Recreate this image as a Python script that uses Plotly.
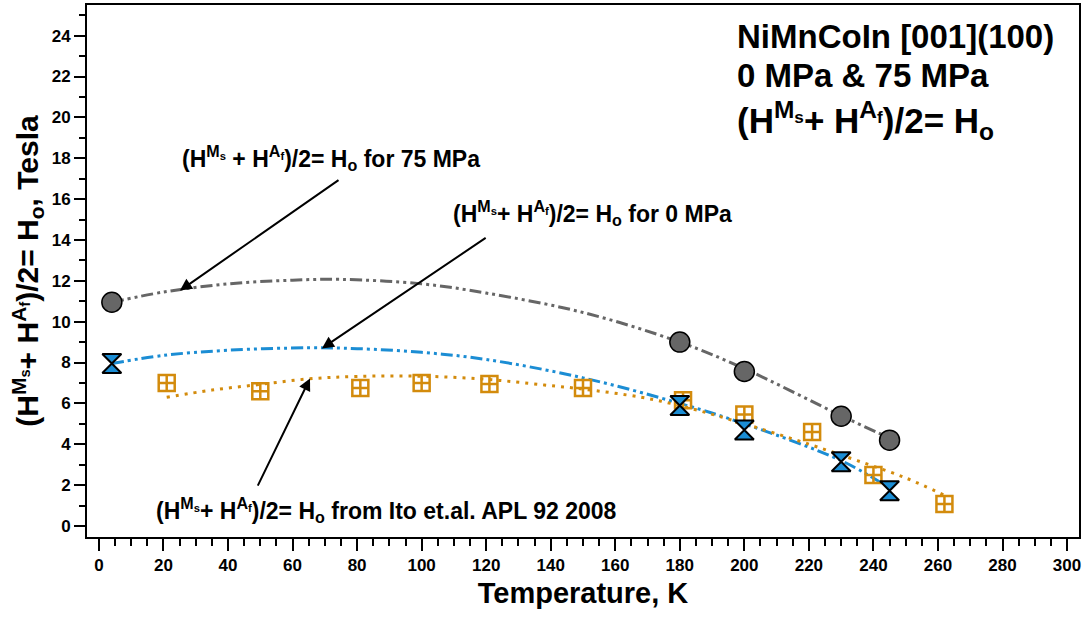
import plotly.graph_objects as go

# ---------------- data ----------------
# 75 MPa measured points
t75 = [4, 180, 200, 230, 245]
h75 = [10.95, 9.0, 7.56, 5.37, 4.2]
# 0 MPa measured points
t0 = [4, 180, 200, 230, 245]
h0 = [7.95, 5.9, 4.7, 3.14, 1.72]
# Ito et al. APL 92 2008
tIto = [21, 50, 81, 100, 121, 150, 181, 200, 221, 240, 262]
hIto = [7.0, 6.6, 6.75, 7.0, 6.95, 6.75, 6.15, 5.45, 4.6, 2.5, 1.07]

# fit curves
fit75_t = [4, 20, 40, 60, 75, 100, 120, 150, 180, 200, 230, 245]
fit75_h = [10.95, 11.45, 11.85, 12.03, 12.07, 11.85, 11.4, 10.45, 9.0, 7.7, 5.4, 4.3]
fit0_t = [4, 20, 40, 65, 80, 100, 120, 150, 180, 200, 230, 243]
fit0_h = [7.95, 8.35, 8.6, 8.72, 8.68, 8.5, 8.15, 7.25, 6.0, 5.0, 3.2, 2.05]
fitIto_t = [21, 35, 50, 65, 80, 100, 120, 138, 150, 168, 181, 200, 221, 235, 250, 262]
fitIto_h = [6.3, 6.65, 6.93, 7.2, 7.32, 7.33, 7.18, 6.9, 6.7, 6.3, 5.85, 5.0, 3.95, 3.2, 2.35, 1.5]

x_ticks = list(range(0, 301, 20))
y_ticks = list(range(0, 25, 2))

GRAY = "#666666"
BLUE = "#1b8dd4"
ORANGE = "#d38b0c"
FONT = "Liberation Sans, Arial, sans-serif"

fig = go.Figure()

fig.add_trace(go.Scatter(x=fit75_t, y=fit75_h, mode="lines", line_shape="spline",
                         line=dict(color=GRAY, width=3, dash="12px,4px,3px,4px,3px,4px"),
                         hoverinfo="skip"))
fig.add_trace(go.Scatter(x=fit0_t, y=fit0_h, mode="lines", line_shape="spline",
                         line=dict(color=BLUE, width=3, dash="12px,4px,3px,4px,3px,4px"),
                         hoverinfo="skip"))
fig.add_trace(go.Scatter(x=fitIto_t, y=fitIto_h, mode="lines", line_shape="spline",
                         line=dict(color=ORANGE, width=3, dash="3px,6px"),
                         hoverinfo="skip"))

fig.add_trace(go.Scatter(x=tIto, y=hIto, mode="markers",
                         marker=dict(symbol="square-cross-open", size=16, color=ORANGE,
                                     line=dict(color=ORANGE, width=2.5))))
fig.add_trace(go.Scatter(x=t0, y=h0, mode="markers",
                         marker=dict(symbol="hourglass", size=19, color=BLUE,
                                     line=dict(color="black", width=2))))
fig.add_trace(go.Scatter(x=t75, y=h75, mode="markers",
                         marker=dict(symbol="circle", size=20, color=GRAY,
                                     line=dict(color="black", width=1.5))))

HMS = "H<sup>M<sub>s</sub></sup>"
HAF = "H<sup>A<sub>f</sub></sup>"

def ann(text, x, y, size, xanchor="center"):
    fig.add_annotation(x=x, y=y, xref="x", yref="y", text=text, showarrow=False,
                       xanchor=xanchor, yanchor="middle",
                       font=dict(family=FONT, size=size, color="black", weight="bold"))

def arrow(x, y, ax, ay):
    fig.add_annotation(x=x, y=y, ax=ax, ay=ay, xref="x", yref="y", axref="x", ayref="y",
                       text="", showarrow=True, arrowhead=2, arrowsize=1.2,
                       arrowwidth=2, arrowcolor="black")

ann(f"({HMS} + {HAF})/2= H<sub>o</sub> for 75 MPa", 72, 18.0, 23)
ann(f"({HMS}+ {HAF})/2= H<sub>o</sub> for 0 MPa", 153, 15.3, 23)
ann(f"({HMS}+ {HAF})/2= H<sub>o</sub> from Ito et.al. APL 92 2008", 89, 0.78, 23)

arrow(25.1, 11.52, 74.7, 16.98)
arrow(69.1, 8.69, 120.3, 14.15)
arrow(65.4, 7.22, 49, 1.9)

ann("NiMnCoIn [001](100)", 197, 23.95, 33, "left")
ann("0 MPa &amp; 75 MPa", 197, 22.05, 33, "left")
ann(f"({HMS}+ {HAF})/2= H<sub>o</sub>", 197, 19.85, 35, "left")

fig.update_layout(
    width=1086, height=618,
    margin=dict(l=87, r=7, t=3, b=81),
    paper_bgcolor="white", plot_bgcolor="white",
    showlegend=False,
    font=dict(family=FONT, color="black"),
)
fig.update_xaxes(
    range=[-3.7, 303.7], tickmode="array", tickvals=x_ticks,
    ticks="outside", ticklen=12, tickwidth=2, tickcolor="black",
    minor=dict(dtick=5, tick0=0, ticks="outside", ticklen=7, tickwidth=2, tickcolor="black"),
    showline=True, linewidth=2, linecolor="black", mirror=True,
    showgrid=False, zeroline=False,
    tickfont=dict(family=FONT, size=17, weight="bold"),
    title=dict(text="Temperature, K", font=dict(family=FONT, size=29, weight="bold"), standoff=8),
)
fig.update_yaxes(
    range=[-0.54, 25.5], tickmode="array", tickvals=y_ticks,
    ticks="outside", ticklen=11, tickwidth=2, tickcolor="black",
    minor=dict(dtick=1, tick0=0, ticks="outside", ticklen=6, tickwidth=2, tickcolor="black"),
    showline=True, linewidth=2, linecolor="black", mirror=True,
    showgrid=False, zeroline=False,
    tickfont=dict(family=FONT, size=17, weight="bold"),
    title=dict(text=f"({HMS}+ {HAF})/2= H<sub>o</sub>, Tesla",
               font=dict(family=FONT, size=30, weight="bold"), standoff=4),
)

fig.write_html("out.html")
